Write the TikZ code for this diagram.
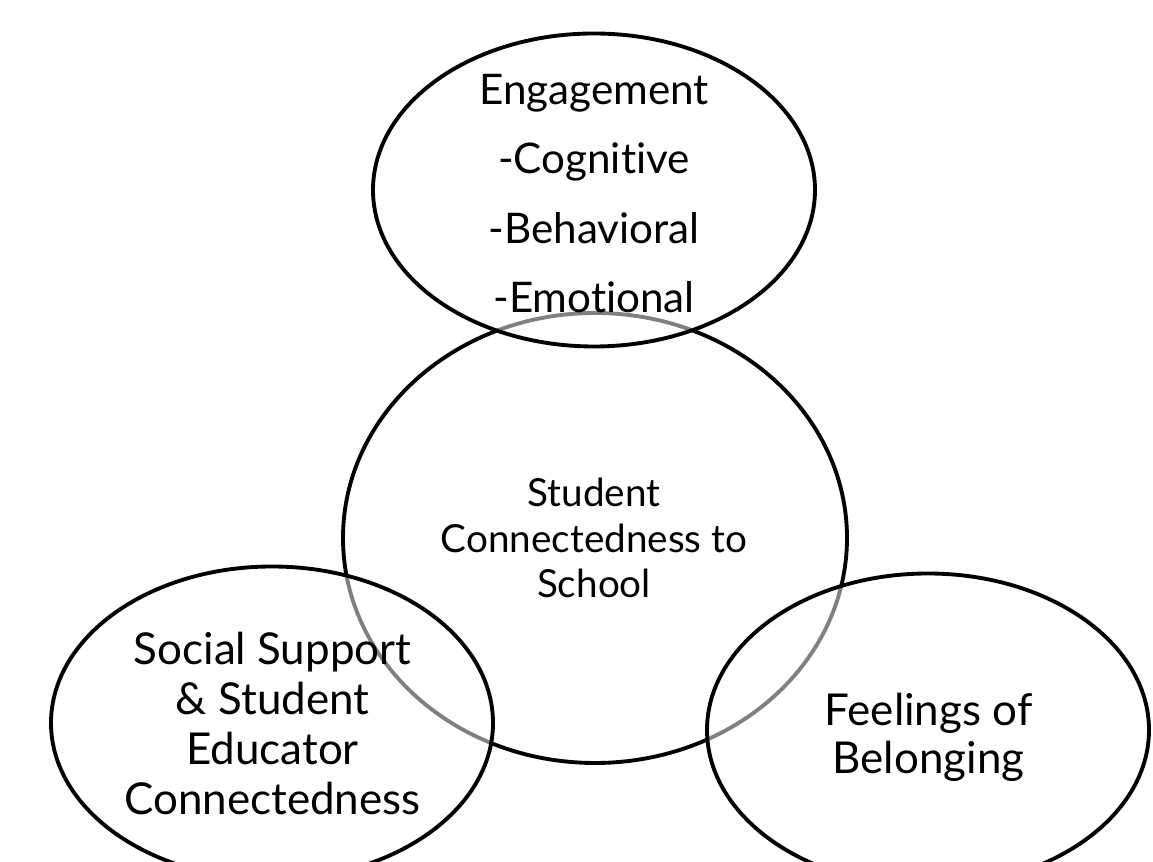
\documentclass[tikz,border=0pt]{standalone}
\usepackage{fontspec}
\setsansfont{Lato}[Ligatures=NoCommon]
\usetikzlibrary{shapes.geometric}
\definecolor{Ink}{HTML}{000000}
\definecolor{Paper}{HTML}{FFFFFF}

\begin{document}
\begin{tikzpicture}[font=\sffamily,every node/.style={text=Ink},
  oval/.style={ellipse,draw=Ink,line width=2.2pt,inner sep=0pt,minimum width=8.84cm,minimum height=6.26cm},
  veil/.style={fill=Paper,fill opacity=0.5},
  words/.style={align=center}]
\clip (0,0) rectangle (23.06,17.24);
\fill[Paper] (0,0) rectangle (23.06,17.24);
% hub goes first, the three outer ovals wash its outline grey where they cover it
\node[oval,fill=Paper,minimum width=10.08cm,minimum height=9cm] (hub) at (11.90,6.48) {};
\node[oval,veil] (engage) at (11.88,13.44) {};
\node[oval,veil] (support) at (5.44,2.78) {};
\node[oval,veil] (belong) at (18.56,2.64) {};
\node[words,font=\sffamily\fontsize{24}{39.5}\selectfont] (engagetxt) at (11.88,13.37) {Engagement\\-Cognitive\\-Behavioral\\-Emotional};
\node[words,font=\sffamily\fontsize{22}{25.9}\selectfont] (hubtxt) at (11.88,6.48) {Student\\Connectedness to\\School};
\node[words,font=\sffamily\fontsize{25}{28.5}\selectfont] (supporttxt) at (5.45,2.77) {Social Support\\\& Student\\Educator\\Connectedness};
\node[words,font=\sffamily\fontsize{25}{27.3}\selectfont] (belongtxt) at (18.57,2.50) {Feelings of\\Belonging};
\end{tikzpicture}
\end{document}
